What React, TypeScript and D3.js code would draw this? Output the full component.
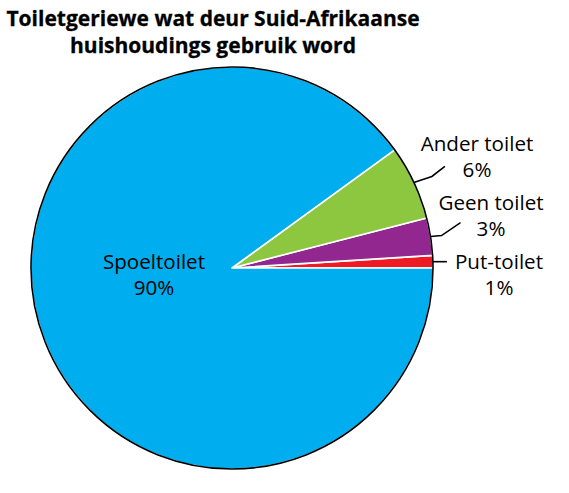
import React from "react";
import * as d3 from "d3";

const categories = ["Put-toilet", "Geen toilet", "Ander toilet", "Spoeltoilet"];
const values = [1, 3, 6, 90];
const colors = ["#ED1C24", "#92278F", "#8DC63F", "#00AEEF"];
const titleLines = ["Toiletgeriewe wat deur Suid-Afrikaanse", "huishoudings gebruik word"];

const W = 569, H = 493;
const cx = 232, cy = 268, R = 201;
const FONT = "'Open Sans', 'Noto Sans', sans-serif";

// label layout for outside labels: elbow offset, end offset, text centre & baseline
const outside: Record<string, { e1: [number, number]; e2: [number, number]; tx: number; ty: number }> = {
  "Put-toilet": { e1: [8, 0], e2: [14, 0], tx: 499, ty: 269 },
  "Geen toilet": { e1: [11, -1], e2: [30, -14], tx: 491, ty: 210 },
  "Ander toilet": { e1: [18, -6], e2: [31, -16], tx: 477, ty: 151 },
};

export default function App() {
  const pie = d3
    .pie<number>()
    .sort(null)
    .startAngle(Math.PI / 2)
    .endAngle(Math.PI / 2 - 2 * Math.PI);
  const arcs = pie(values);
  const arc = d3.arc<d3.PieArcDatum<number>>().innerRadius(0).outerRadius(R);

  return (
    <svg width={W} height={H} style={{ position: "absolute", left: 0, top: 0 }}>
      <rect width={W} height={H} fill="#fff" />
      {titleLines.map((t, i) => (
        <text
          key={i}
          x={213}
          y={26 + i * 27}
          textAnchor="middle"
          fontFamily={FONT}
          fontWeight={700}
          fontSize={21}
          fill="#000"
          stroke="#000"
          strokeWidth={0.3}
        >
          {t}
        </text>
      ))}
      <g transform={`translate(${cx},${cy})`}>
        {arcs.map((a, i) => (
          <path key={i} d={arc(a) || ""} fill={colors[i]} stroke="#fff" strokeWidth={1.6} strokeLinejoin="round" />
        ))}
        <circle r={R} fill="none" stroke="#000" strokeWidth={1.6} />
        {arcs.map((a, i) => {
          const name = categories[i];
          const lay = outside[name];
          if (!lay) return null;
          const mid = (a.startAngle + a.endAngle) / 2;
          const px = Math.sin(mid) * R;
          const py = -Math.cos(mid) * R;
          const pts: [number, number][] = [
            [px, py],
            [px + lay.e1[0], py + lay.e1[1]],
            [px + lay.e2[0], py + lay.e2[1]],
          ];
          return (
            <path
              key={"l" + i}
              d={d3.line()(pts) || ""}
              fill="none"
              stroke="#000"
              strokeWidth={1.6}
            />
          );
        })}
      </g>
      {categories.map((name, i) => {
        const lay = outside[name];
        const tx = lay ? lay.tx : 154;
        const ty = lay ? lay.ty : 269;
        return (
          <g key={"t" + i} fontFamily={FONT} fontSize={20.6} fill="#000" textAnchor="middle">
            <text x={tx} y={ty}>{name}</text>
            <text x={tx} y={ty + 26}>{values[i]}%</text>
          </g>
        );
      })}
    </svg>
  );
}
